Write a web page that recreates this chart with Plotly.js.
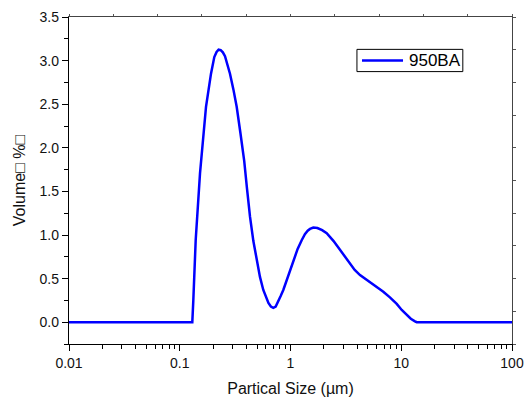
<!DOCTYPE html>
<html>
<head>
<meta charset="utf-8">
<script src="https://cdn.plot.ly/plotly-3.0.1.min.js"></script>
<style>html,body{margin:0;padding:0;background:#fff;}#chart{width:525px;height:401px;}</style>
</head>
<body>
<div id="chart"></div>
<script>
const seriesName = "950BA";
const sizes = [0.01, 0.1298, 0.1326, 0.1393, 0.1524, 0.1632, 0.1726, 0.1915, 0.198, 0.2051, 0.215, 0.2243, 0.2343, 0.245, 0.2562, 0.27, 0.2842, 0.305, 0.3267, 0.353, 0.382, 0.405, 0.4308, 0.462, 0.4952, 0.53, 0.5681, 0.60, 0.632, 0.665, 0.6994, 0.735, 0.77, 0.815, 0.861, 0.96, 1.06, 1.16, 1.262, 1.349, 1.43, 1.50, 1.607, 1.75, 1.93, 2.123, 2.45, 2.80, 3.1, 3.445, 3.8, 4.242, 4.7, 5.22, 6.0, 6.887, 7.9, 9.10, 10.1, 11.2, 12.2, 13.3, 13.8, 100];
const volume = [0, 0, 0.25, 0.94, 1.71, 2.09, 2.47, 2.85, 2.96, 3.04, 3.10, 3.125, 3.12, 3.095, 3.05, 2.96, 2.85, 2.67, 2.47, 2.17, 1.85, 1.53, 1.21, 0.93, 0.71, 0.52, 0.37, 0.28, 0.22, 0.18, 0.165, 0.18, 0.23, 0.30, 0.37, 0.55, 0.71, 0.84, 0.94, 1.01, 1.05, 1.07, 1.085, 1.08, 1.055, 1.02, 0.93, 0.83, 0.75, 0.67, 0.60, 0.54, 0.50, 0.455, 0.405, 0.35, 0.285, 0.21, 0.14, 0.08, 0.04, 0.01, 0, 0];
const xTickVals = [0.01, 0.1, 1, 10, 100];
const xTickText = ["0.01", "0.1", "1", "10", "100"];
const xMinorVals = [0.02,0.03,0.04,0.05,0.06,0.07,0.08,0.09,0.2,0.3,0.4,0.5,0.6,0.7,0.8,0.9,2,3,4,5,6,7,8,9,20,30,40,50,60,70,80,90];
const yTitle = "Volume\u25A1 %\u25A1";
const xTitle = "Partical Size (\u00B5m)";

const font = "Arial, 'Liberation Sans', sans-serif";
const traces = [
  {x: sizes, y: volume, type: 'scatter', mode: 'lines', name: seriesName,
   line: {color: '#0000FF', width: 2.5, shape: 'linear'}, xaxis: 'x', yaxis: 'y'},
  {x: [], y: [], type: 'scatter', mode: 'lines', showlegend: false, xaxis: 'x2', yaxis: 'y2', hoverinfo: 'skip'}
];
const layout = {
  width: 525, height: 401,
  margin: {l: 69, r: 13, t: 17, b: 57},
  paper_bgcolor: '#fff', plot_bgcolor: '#fff',
  font: {family: font, color: '#111', size: 14},
  showlegend: false,
  shapes: [
    {type: 'rect', xref: 'paper', yref: 'paper', x0: 0.650, x1: 0.889, y0: 0.833, y1: 0.901,
     line: {color: '#000', width: 1}, fillcolor: '#fff'},
    {type: 'line', xref: 'paper', yref: 'paper', x0: 0.6614, x1: 0.7540, y0: 0.867, y1: 0.867,
     line: {color: '#0000FF', width: 2.5}}
  ],
  annotations: [
    {xref: 'paper', yref: 'paper', x: 0.762, y: 0.867, xanchor: 'left', yanchor: 'middle',
     text: seriesName, showarrow: false, font: {size: 17, color: '#000'}}
  ],
  xaxis: {type: 'log', range: [-2, 2], tickvals: xTickVals, ticktext: xTickText,
          ticks: 'outside', ticklen: 6, tickwidth: 1, tickcolor: '#000',
          showline: true, linecolor: '#000', linewidth: 1.2, showgrid: false, zeroline: false,
          minor: {ticks: 'outside', ticklen: 4, tickcolor: '#000', tickvals: xMinorVals, showgrid: false},
          tickfont: {size: 14, color: '#111'},
          title: {text: xTitle, font: {size: 16, color: '#111'}, standoff: 12}},
  yaxis: {range: [-0.25, 3.5], dtick: 0.5, tick0: 0, tickformat: '.1f',
          ticks: 'outside', ticklen: 6, tickwidth: 1, tickcolor: '#000',
          showline: true, linecolor: '#000', linewidth: 1.2, showgrid: false, zeroline: false,
          minor: {ticks: 'outside', ticklen: 4, dtick: 0.25, tickcolor: '#000', showgrid: false},
          tickfont: {size: 14, color: '#111'},
          title: {text: yTitle, font: {size: 16, color: '#111'}, standoff: 10}},
  xaxis2: {overlaying: 'x', anchor: 'y2', side: 'top', range: [0, 10], dtick: 1,
           ticks: 'outside', ticklen: 2, tickcolor: '#555', showticklabels: false,
           showline: true, linecolor: '#444', linewidth: 1.2, showgrid: false, zeroline: false},
  yaxis2: {overlaying: 'y', anchor: 'x2', side: 'right', range: [0, 10], dtick: 1,
           ticks: 'outside', ticklen: 3, tickcolor: '#555', showticklabels: false,
           showline: true, linecolor: '#444', linewidth: 1.2, showgrid: false, zeroline: false}
};
Plotly.newPlot('chart', traces, layout, {displayModeBar: false, staticPlot: true});
</script>
</body>
</html>
